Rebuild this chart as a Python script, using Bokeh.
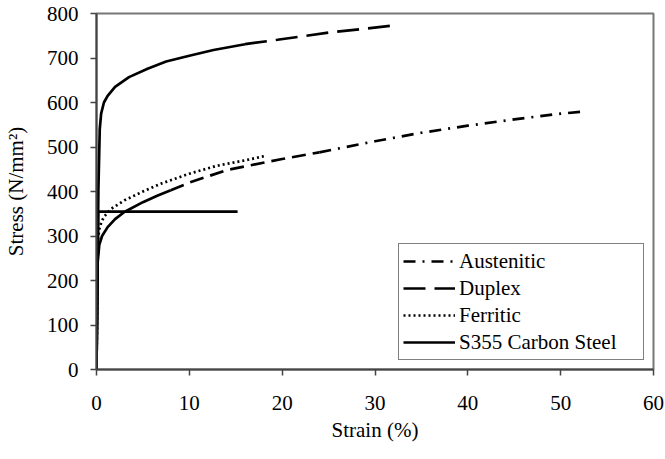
from bokeh.plotting import figure
from bokeh.models import Range1d, FixedTicker, Legend, LegendItem
from bokeh.embed import file_html
from bokeh.resources import INLINE

# ---- data (strain in %, stress in N/mm2) ----
x_ticks = [0, 10, 20, 30, 40, 50, 60]
y_ticks = [0, 100, 200, 300, 400, 500, 600, 700, 800]

aus_strain = [0, 0.12, 0.3, 0.6, 1.2, 2, 3, 5, 6.6, 8, 10, 14, 20, 24, 30, 35, 40, 45, 50, 52.8]
aus_stress = [0, 240, 280, 300, 320, 338, 354, 376, 391, 403, 420, 448, 473, 488, 513, 532, 548, 562, 575, 580]

dup_strain = [0, 0.2, 0.35, 0.5, 0.8, 1.2, 2, 3.5, 5.5, 7.5, 10, 12.6, 16, 19.5, 25, 31.6]
dup_stress = [0, 400, 540, 575, 600, 615, 635, 657, 676, 692, 705, 718, 731, 741, 757, 772]

fer_strain = [0, 0.15, 0.3, 0.5, 0.8, 1.5, 3, 5, 7, 10, 13, 16, 18.2]
fer_stress = [0, 290, 315, 330, 343, 360, 380, 400, 418, 440, 458, 470, 480]

cs_strain = [0, 0.18, 15.2]
cs_stress = [0, 355, 355]

FONT = "'Liberation Serif', 'Times New Roman', serif"

p = figure(frame_width=557, frame_height=356, output_backend="svg", toolbar_location=None,
           x_range=Range1d(0, 60), y_range=Range1d(0, 800),
           min_border_left=88, min_border_right=11, min_border_top=13, min_border_bottom=78)

p.xgrid.visible = False
p.ygrid.visible = False
p.outline_line_color = "#777777"
p.outline_line_width = 2
p.background_fill_color = "white"
p.border_fill_color = "white"

p.xaxis.ticker = FixedTicker(ticks=x_ticks)
p.yaxis.ticker = FixedTicker(ticks=y_ticks)
for ax in (p.xaxis[0], p.yaxis[0]):
    ax.axis_line_color = "#444444"
    ax.axis_line_width = 2
    ax.major_tick_line_color = "#444444"
    ax.major_tick_line_width = 1.5
    ax.major_tick_in = 0
    ax.major_tick_out = 6
    ax.minor_tick_line_color = None
    ax.major_label_text_font = FONT
    ax.major_label_text_font_size = "21px"
    ax.major_label_text_color = "black"
    ax.axis_label_text_font = FONT
    ax.axis_label_text_font_size = "21px"
    ax.axis_label_text_font_style = "normal"
    ax.axis_label_text_color = "black"

p.xaxis.axis_label = "Strain (%)"
p.yaxis.axis_label = "Stress (N/mm²)"
p.xaxis.major_label_standoff = 20
p.yaxis.major_label_standoff = 12
p.xaxis.axis_label_standoff = 5
p.yaxis.axis_label_standoff = 16


def split(xs, ys, breaks):
    """Split one series into consecutive pieces (sharing boundary points)."""
    segs = []
    start = 0
    for b in breaks:
        end = max(i for i, v in enumerate(xs) if v <= b)
        segs.append((xs[start:end + 1], ys[start:end + 1]))
        start = end
    segs.append((xs[start:], ys[start:]))
    return segs

LW = 2.7

# Austenitic: dense start looks solid, then dashes, then dash-dot
a1, a2, a3 = split(aus_strain, aus_stress, [8, 26])
p.line(a1[0], a1[1], line_color="black", line_width=LW)
p.line(a2[0], a2[1], line_color="black", line_width=LW, line_dash="14 7")
r_aus = p.line(a3[0], a3[1], line_color="black", line_width=LW, line_dash="12 7 2 7")

# Duplex: solid-looking start, then long dashes
d1, d2 = split(dup_strain, dup_stress, [16])
p.line(d1[0], d1[1], line_color="black", line_width=LW)
r_dup = p.line(d2[0], d2[1], line_color="black", line_width=LW, line_dash="22 9")

# Ferritic: dotted
r_fer = p.line(fer_strain, fer_stress, line_color="black", line_width=LW, line_dash="2 3")

# S355 carbon steel: solid
r_cs = p.line(cs_strain, cs_stress, line_color="black", line_width=LW)

legend = Legend(items=[
    LegendItem(label="Austenitic", renderers=[r_aus]),
    LegendItem(label="Duplex", renderers=[r_dup]),
    LegendItem(label="Ferritic", renderers=[r_fer]),
    LegendItem(label="S355 Carbon Steel", renderers=[r_cs]),
], location=(302, 9))
legend.border_line_color = "black"
legend.border_line_width = 1
legend.background_fill_color = "white"
legend.background_fill_alpha = 1
legend.padding = 4
legend.spacing = 1
legend.margin = 0
legend.glyph_width = 52
legend.glyph_height = 26
legend.label_height = 26
legend.label_width = 180
legend.label_standoff = 4
legend.label_text_font = FONT
legend.label_text_font_size = "21px"
legend.label_text_color = "black"
p.add_layout(legend)

open("out.html", "w").write(file_html(p, INLINE))
